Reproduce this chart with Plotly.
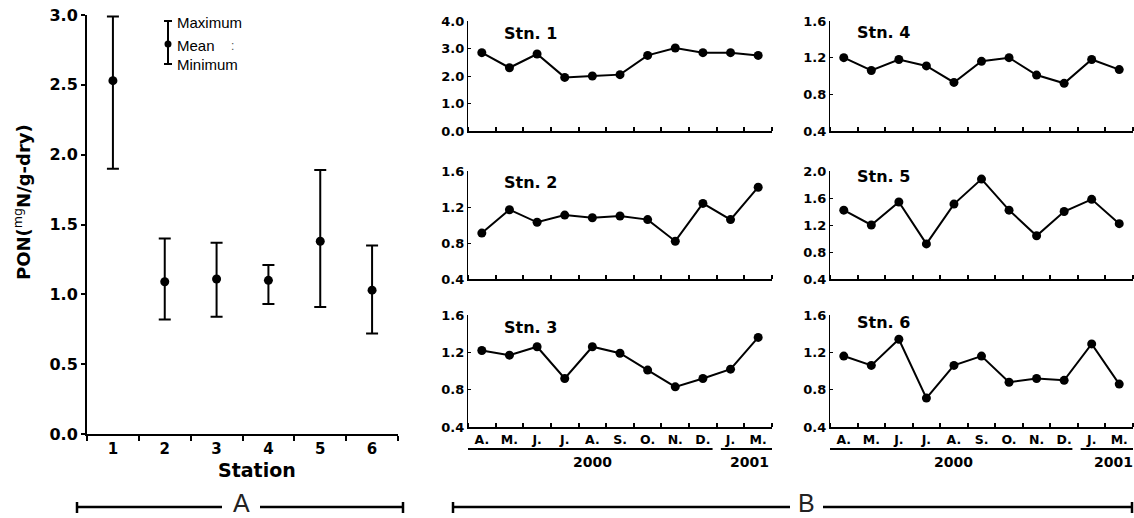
import plotly.graph_objects as go

# ---- data ----------------------------------------------------------------
stations = [1, 2, 3, 4, 5, 6]
pon_mean = [2.53, 1.09, 1.11, 1.10, 1.38, 1.03]
pon_max = [2.99, 1.40, 1.37, 1.21, 1.89, 1.35]
pon_min = [1.90, 0.82, 0.84, 0.93, 0.91, 0.72]

months = ["A.", "M.", "J.", "J.", "A.", "S.", "O.", "N.", "D.", "J.", "M."]
month_idx = list(range(1, len(months) + 1))
years = ["2000", "2001"]

stn1 = [2.85, 2.30, 2.80, 1.95, 2.00, 2.05, 2.75, 3.02, 2.85, 2.85, 2.75]
stn2 = [0.91, 1.17, 1.03, 1.11, 1.08, 1.10, 1.06, 0.82, 1.24, 1.06, 1.42]
stn3 = [1.22, 1.17, 1.26, 0.92, 1.26, 1.19, 1.01, 0.83, 0.92, 1.02, 1.36]
stn4 = [1.20, 1.06, 1.18, 1.11, 0.93, 1.16, 1.20, 1.01, 0.92, 1.18, 1.07]
stn5 = [1.42, 1.20, 1.54, 0.92, 1.51, 1.88, 1.42, 1.04, 1.40, 1.58, 1.22]
stn6 = [1.16, 1.06, 1.34, 0.71, 1.06, 1.16, 0.88, 0.92, 0.90, 1.29, 0.86]

# ---- geometry helpers ------------------------------------------------------
W, H = 1134, 518


def px(x):
    return x / W


def py(y):
    return 1 - y / H


FONT = "DejaVu Sans"
INK = "black"

fig = go.Figure()

# ---- panel A: mean with min/max range ----------------------------------------
fig.add_trace(go.Scatter(
    x=stations, y=pon_mean, mode="markers",
    marker=dict(color=INK, size=9),
    error_y=dict(type="data", symmetric=False,
                 array=[mx - m for mx, m in zip(pon_max, pon_mean)],
                 arrayminus=[m - mn for m, mn in zip(pon_mean, pon_min)],
                 color=INK, thickness=2, width=6),
    xaxis="x", yaxis="y", showlegend=False,
))

# ---- panel B: monthly series per station ------------------------------------
series = [("Stn. 1", stn1), ("Stn. 2", stn2), ("Stn. 3", stn3),
          ("Stn. 4", stn4), ("Stn. 5", stn5), ("Stn. 6", stn6)]
for i, (name, vals) in enumerate(series):
    k = i + 2
    fig.add_trace(go.Scatter(
        x=month_idx, y=vals, mode="lines+markers", name=name,
        line=dict(color=INK, width=2),
        marker=dict(color=INK, size=9),
        xaxis=f"x{k}", yaxis=f"y{k}", showlegend=False,
    ))

layout = dict(
    template="none",
    width=W, height=H, autosize=False,
    margin=dict(l=0, r=0, t=0, b=0, pad=0),
    paper_bgcolor="white", plot_bgcolor="white",
    showlegend=False,
)

# left panel axes
layout["xaxis"] = dict(
    domain=[px(87), px(398)], range=[0.5, 6.5], automargin=False,
    tickmode="array", tickvals=stations, ticktext=[str(s) for s in stations],
    ticks="", showgrid=False, zeroline=False,
    showline=True, linecolor=INK, linewidth=2,
    minor=dict(tickmode="array", tickvals=[s - 0.5 for s in stations] + [6.5],
               ticks="outside", ticklen=5, tickwidth=2, tickcolor=INK,
               showgrid=False),
    tickfont=dict(family=FONT, size=15, color=INK, weight="bold"),
    anchor="y", fixedrange=True,
)
layout["yaxis"] = dict(
    domain=[py(434), py(15)], range=[0, 3.0], automargin=False,
    tickmode="linear", tick0=0, dtick=0.5, tickformat=".1f",
    ticks="outside", ticklen=4, tickwidth=2, tickcolor=INK,
    showgrid=False, zeroline=False,
    showline=True, linecolor=INK, linewidth=2,
    tickfont=dict(family=FONT, size=16, color=INK, weight="bold"),
    anchor="x", fixedrange=True,
)

# right panels: two columns, three rows
col_dom = [[px(468), px(772)], [px(830), px(1133)]]
row_dom = [[py(131), py(21)], [py(279), py(171)], [py(427), py(315)]]
y_ranges = [[0, 4.0], [0.4, 1.6], [0.4, 1.6], [0.4, 1.6], [0.4, 2.0], [0.4, 1.6]]
y_dticks = [1.0, 0.4, 0.4, 0.4, 0.4, 0.4]
label_pos = [(0.112, 0.89), (0.112, 0.89), (0.112, 0.89),
             (0.083, 0.90), (0.083, 0.945), (0.083, 0.93)]

annotations = []
shapes = []

for i in range(6):
    k = i + 2
    col, row = divmod(i, 3)
    bottom = row == 2
    layout[f"xaxis{k}"] = dict(
        domain=col_dom[col], range=[0.5, 11.5], automargin=False,
        tickmode="array", tickvals=month_idx, ticktext=months,
        showticklabels=bottom, ticks="",
        showgrid=False, zeroline=False,
        showline=True, linecolor=INK, linewidth=2,
        minor=dict(tickmode="array", tickvals=[m - 0.5 for m in month_idx] + [11.5],
                   ticks="inside", ticklen=4, tickwidth=1.5, tickcolor=INK,
                   showgrid=False),
        tickfont=dict(family=FONT, size=12.5, color=INK, weight="bold"),
        anchor=f"y{k}", fixedrange=True,
    )
    layout[f"yaxis{k}"] = dict(
        domain=row_dom[row], range=y_ranges[i], automargin=False,
        tickmode="linear", tick0=y_ranges[i][0], dtick=y_dticks[i],
        tickformat=".1f",
        ticks="inside", ticklen=3, tickwidth=1.2, tickcolor=INK,
        showgrid=False, zeroline=False,
        showline=True, linecolor=INK, linewidth=1.3,
        tickfont=dict(family=FONT, size=13, color=INK, weight="bold"),
        anchor=f"x{k}", fixedrange=True,
    )
    lx, ly = label_pos[i]
    annotations.append(dict(
        text=f"<b>{series[i][0]}</b>", x=lx, y=ly,
        xref=f"x{k} domain", yref=f"y{k} domain",
        xanchor="left", yanchor="middle", showarrow=False,
        font=dict(family=FONT, size=16, color=INK),
    ))

# year brackets under the bottom row of panel B
year_spans = {"x4": [(0.32, 9.35, 5.0), (9.65, 11.55, 10.7)],
              "x7": [(0.32, 9.3, 5.0), (9.6, 11.55, 10.8)]}
for xr, spans in year_spans.items():
    for (x0, x1, xc), yr in zip(spans, years):
        shapes.append(dict(type="line", xref=xr, yref="paper",
                           x0=x0, x1=x1, y0=py(449), y1=py(449),
                           line=dict(color=INK, width=2)))
        annotations.append(dict(
            text=f"<b>{yr}</b>", x=xc, y=py(462), xref=xr, yref="paper",
            xanchor="center", yanchor="middle", showarrow=False,
            font=dict(family=FONT, size=14, color=INK),
        ))

# left panel key: maximum / mean / minimum
kx = px(168)
shapes += [
    dict(type="line", xref="paper", yref="paper", x0=kx, x1=kx,
         y0=py(21), y1=py(64), line=dict(color=INK, width=2)),
    dict(type="line", xref="paper", yref="paper", x0=px(164), x1=px(172),
         y0=py(21), y1=py(21), line=dict(color=INK, width=2)),
    dict(type="line", xref="paper", yref="paper", x0=px(164), x1=px(172),
         y0=py(64), y1=py(64), line=dict(color=INK, width=2)),
    dict(type="circle", xref="paper", yref="paper", x0=px(164.5), x1=px(171.5),
         y0=py(47.5), y1=py(40.5), fillcolor=INK, line=dict(color=INK, width=0)),
]
for txt, yy in [("Maximum", 22), ("Mean", 45), ("Minimum", 65)]:
    annotations.append(dict(
        text=txt, x=px(175), y=py(yy), xref="paper", yref="paper",
        xanchor="left", yanchor="middle", showarrow=False,
        font=dict(family="Liberation Sans", size=15, color=INK),
    ))
annotations.append(dict(
    text=":", x=px(232), y=py(46), xref="paper", yref="paper",
    xanchor="center", yanchor="middle", showarrow=False,
    font=dict(family="Liberation Sans", size=12, color="#555"),
))

# axis titles of panel A
annotations.append(dict(
    text="<b>PON(</b><sup>mg</sup><b>N/g-dry)</b>",
    x=px(22), y=py(202), xref="paper", yref="paper", textangle=-90,
    xanchor="center", yanchor="middle", showarrow=False,
    font=dict(family=FONT, size=18, color=INK),
))
annotations.append(dict(
    text="<b>Station</b>", x=px(257), y=py(470), xref="paper", yref="paper",
    xanchor="center", yanchor="middle", showarrow=False,
    font=dict(family=FONT, size=19, color=INK),
))

# bottom section brackets "A" and "B"
yb = py(507)
for x0, x1 in [(76, 222), (260, 404), (452, 790), (823, 1133)]:
    shapes.append(dict(type="line", xref="paper", yref="paper",
                       x0=px(x0), x1=px(x1), y0=yb, y1=yb,
                       line=dict(color=INK, width=2.5)))
for xc in [77, 403, 453, 1132]:
    shapes.append(dict(type="line", xref="paper", yref="paper",
                       x0=px(xc), x1=px(xc), y0=py(502), y1=py(513),
                       line=dict(color=INK, width=2.5)))
for txt, xc in [("A", 241), ("B", 806)]:
    annotations.append(dict(
        text=txt, x=px(xc), y=py(503), xref="paper", yref="paper",
        xanchor="center", yanchor="middle", showarrow=False,
        font=dict(family="Liberation Sans", size=25, color="#222"),
    ))

layout["annotations"] = annotations
layout["shapes"] = shapes
fig.update_layout(**layout)

fig.write_html("out.html")
